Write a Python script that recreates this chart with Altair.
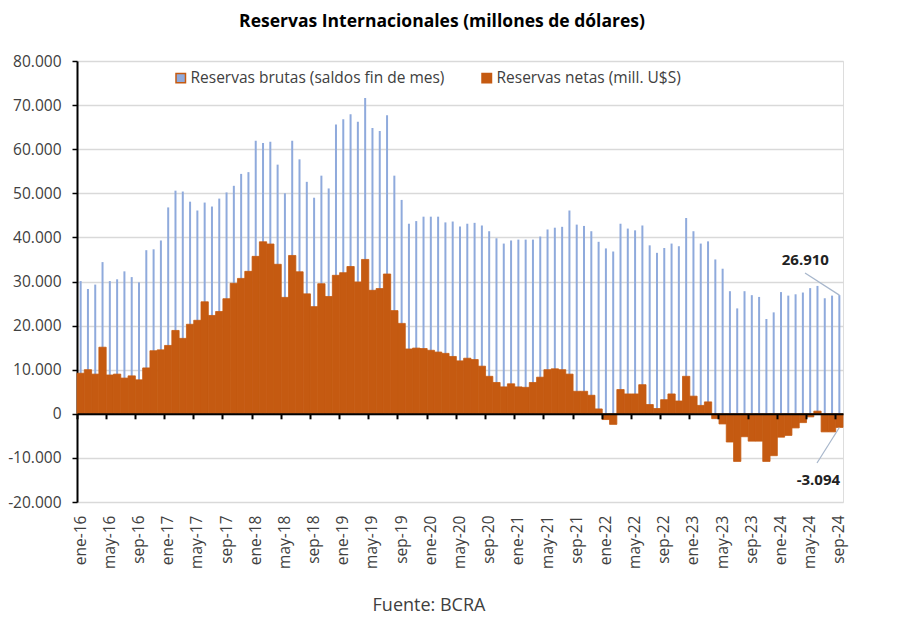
import altair as alt
import pandas as pd

years = ["16", "17", "18", "19", "20", "21", "22", "23", "24"]
month_abbr = ["ene", "feb", "mar", "abr", "may", "jun", "jul", "ago", "sep", "oct", "nov", "dic"]
meses = [f"{m}-{y}" for y in years for m in month_abbr][:105]
label_meses = meses[::4]

# Reservas brutas (saldos fin de mes), millones de US$
brutas = [
    30100, 28300, 29300, 34400, 30100, 30500, 32300, 31000, 29800, 37100, 37300, 39300,
    46800, 50600, 50400, 48100, 46100, 47900, 47000, 48800, 50200, 51700, 54400, 54800,
    61900, 61400, 61700, 56500, 50000, 61900, 57700, 52600, 49000, 54000, 51100, 65600,
    66800, 67900, 66200, 71600, 64800, 64100, 67700, 54000, 48500, 43100, 43700, 44700,
    44700, 44700, 43400, 43600, 42500, 43100, 43300, 42700, 41400, 39800, 38600, 39300,
    39500, 39500, 39500, 40200, 41800, 42200, 42400, 46100, 42900, 42600, 41400, 39000,
    37500, 36800, 43100, 42000, 41600, 42700, 38200, 36500, 37600, 38600, 38000, 44400,
    41400, 38600, 39100, 35000, 32900, 27800, 23900, 27800, 26900, 26500, 21500, 23000,
    27600, 26800, 27100, 27500, 28500, 29000, 26200, 26800, 26910,
]

# Reservas netas (mill. U$S)
netas = [
    9200, 10000, 9000, 15100, 8800, 9000, 8100, 8600, 7700, 10400, 14300, 14500,
    15500, 18900, 17100, 20300, 21200, 25400, 22300, 23200, 26100, 29600, 30700, 32300,
    35700, 39000, 38500, 33900, 26400, 35900, 32200, 27200, 24300, 29500, 26600, 31400,
    32000, 33400, 29900, 35000, 28000, 28400, 31700, 23400, 20500, 14700, 14900, 14800,
    14400, 14000, 13700, 13000, 12000, 12600, 12300, 10800, 8500, 7100, 6100, 6800,
    6100, 6000, 7100, 8300, 10000, 10200, 10000, 9000, 5100, 5100, 4200, 1100,
    -1300, -2400, 5500, 4500, 4500, 6600, 2100, 1200, 3200, 4500, 2900, 8500,
    4000, 1900, 2700, -1100, -2300, -6400, -10800, -5200, -6200, -6200, -10800, -9500,
    -5300, -4900, -3200, -2000, -700, 600, -4100, -4100, -3094,
]

serie_brutas = "Reservas brutas (saldos fin de mes)"
serie_netas = "Reservas netas (mill. U$S)"
colores = ["#8FAADC", "#C55A11"]

df = pd.DataFrame({"mes": meses, "brutas": brutas, "netas": netas})

FONT = "Open Sans"
W, H = 766, 441
YMIN, YMAX = -20000, 80000
zero_offset = -H * (0 - YMIN) / (YMAX - YMIN)

xscale = alt.Scale(paddingInner=0, paddingOuter=0)
yscale = alt.Scale(domain=[YMIN, YMAX], nice=False)

yaxis = alt.Axis(
    values=list(range(YMIN, YMAX + 1, 10000)),
    labelExpr="replace(replace(format(datum.value, ','), ',', '.'), '\u2212', '-')",
    title=None, domainColor="black", domainWidth=2, tickColor="black", tickSize=5,
    tickWidth=1.5, gridColor="#D9D9D9", gridWidth=1.5, labelFont=FONT,
    labelFontSize=15.5, labelColor="#404040", labelPadding=11,
)

color = alt.Color(
    "serie:N",
    scale=alt.Scale(domain=[serie_brutas, serie_netas], range=colores),
    legend=alt.Legend(
        orient="none", legendX=96, legendY=9, direction="horizontal", title=None,
        symbolType="square", symbolSize=90, symbolOpacity=1, labelFont=FONT,
        labelFontSize=15.5, labelColor="#404040", labelLimit=500, columnPadding=34,
        labelOffset=2,
    ),
)

base = alt.Chart(df)

blue = base.transform_calculate(serie=f"'{serie_brutas}'").mark_bar(size=2).encode(
    x=alt.X("mes:N", sort=meses, scale=xscale,
            axis=alt.Axis(values=label_meses, labels=False, title=None, grid=False,
                          bandPosition=0, domainColor="black", domainWidth=2,
                          tickColor="black", tickSize=5, tickWidth=2,
                          offset=zero_offset, zindex=2, orient="bottom")),
    y=alt.Y("brutas:Q", scale=yscale, axis=yaxis),
    color=color,
)

orange = base.transform_calculate(serie=f"'{serie_netas}'").mark_bar(
    stroke="#C55A11", strokeWidth=0.8, strokeJoin="round"
).encode(
    x=alt.X("mes:N", sort=meses, scale=xscale,
            axis=alt.Axis(values=label_meses, labelAngle=-90, domain=False, ticks=False,
                          grid=False, title=None, labelPadding=13, labelFont=FONT,
                          labelFontSize=15.5, labelColor="#404040", orient="bottom")),
    y=alt.Y("netas:Q", scale=yscale, axis=yaxis),
    color=color,
)

ann_top = pd.DataFrame({"mes": [meses[-1]], "valor": [brutas[-1]]})
ann_bot = pd.DataFrame({"mes": [meses[-1]], "valor": [netas[-1]]})
fmt = lambda v: f"{v:,}".replace(",", ".")
ann_top["label"] = [fmt(v) for v in ann_top["valor"]]
ann_bot["label"] = [fmt(v) for v in ann_bot["valor"]]

lead_color = "#A7B6CB"
rule_top = alt.Chart(ann_top).mark_rule(color=lead_color, strokeWidth=1.2).encode(
    x=alt.X("mes:N", sort=meses, scale=xscale, axis=None),
    y=alt.Y("valor:Q", scale=yscale, axis=yaxis),
    x2=alt.value(728), y2=alt.value(212),
)
rule_bot = alt.Chart(ann_bot).mark_rule(color=lead_color, strokeWidth=1.2).encode(
    x=alt.X("mes:N", sort=meses, scale=xscale, axis=None),
    y=alt.Y("valor:Q", scale=yscale, axis=yaxis),
    x2=alt.value(740), y2=alt.value(402),
)
text_top = alt.Chart(ann_top).mark_text(
    dx=-34, dy=-35, font=FONT, fontSize=15, fontWeight="bold", color="#222222", baseline="middle"
).encode(
    x=alt.X("mes:N", sort=meses, scale=xscale, axis=None),
    y=alt.Y("valor:Q", scale=yscale, axis=yaxis),
    text="label:N",
)
text_bot = alt.Chart(ann_bot).mark_text(
    dx=-21, dy=53, font=FONT, fontSize=15, fontWeight="bold", color="#222222", baseline="middle"
).encode(
    x=alt.X("mes:N", sort=meses, scale=xscale, axis=None),
    y=alt.Y("valor:Q", scale=yscale, axis=yaxis),
    text="label:N",
)

fuente = alt.Chart(pd.DataFrame({"t": ["Fuente: BCRA"]})).mark_text(
    font=FONT, fontSize=18, color="#404040", baseline="middle"
).encode(text="t:N", x=alt.value(352), y=alt.value(545))

chart = alt.layer(
    blue, orange, rule_top, rule_bot, text_top, text_bot, fuente
).resolve_axis(x="independent").properties(
    width=W, height=H,
    autosize=alt.AutoSizeParams(type="none"),
    padding={"left": 69, "top": 53, "right": 46, "bottom": 114},
    title=alt.TitleParams(
        "Reservas Internacionales (millones de dólares)", font=FONT, fontSize=17.5,
        fontWeight="bold", color="black", anchor="middle", dx=-18, offset=24,
    ),
).configure_view(strokeWidth=0).configure(background="white")

chart.save("out.html", embed_options={"renderer": "svg", "actions": False})
